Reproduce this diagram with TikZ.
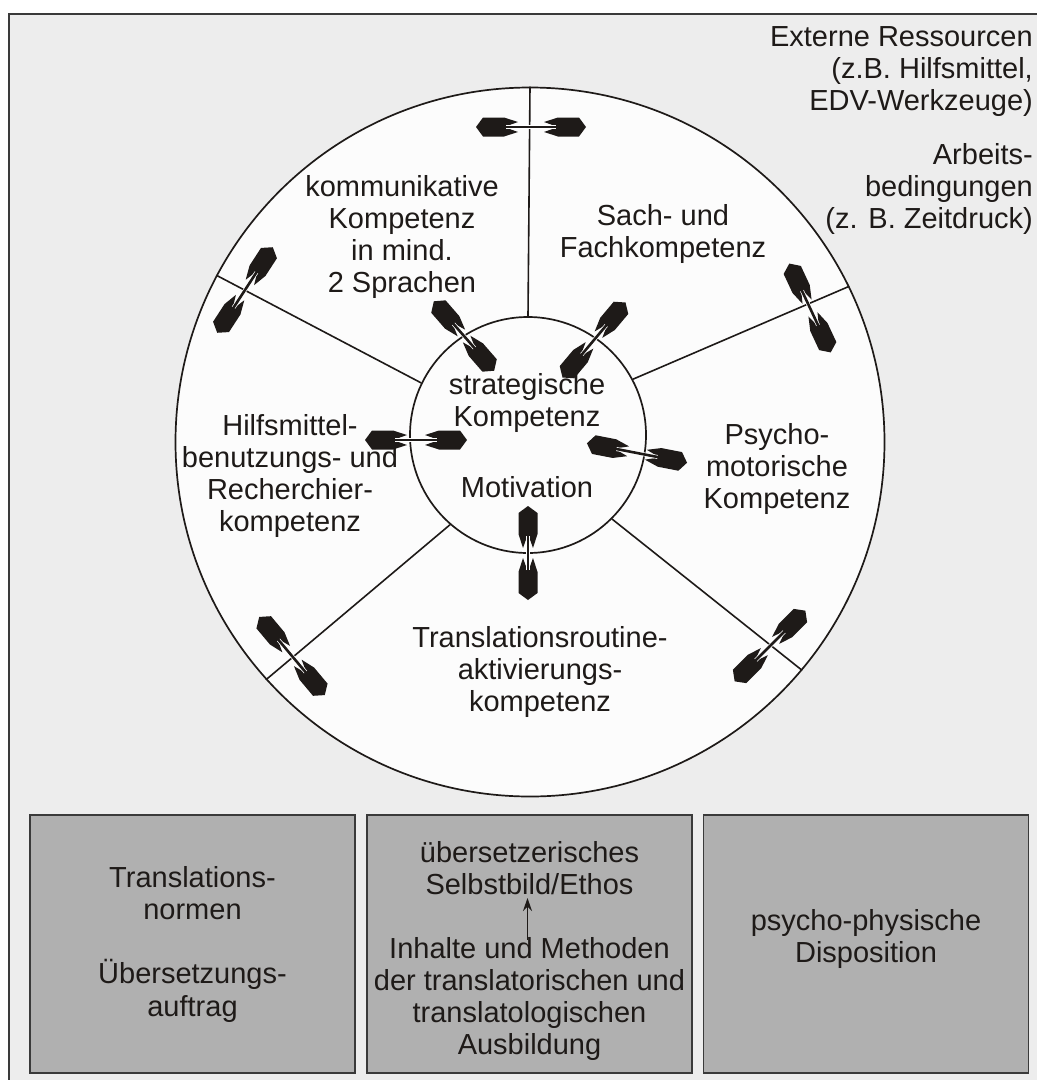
\documentclass[tikz,border=0pt]{standalone}
\usepackage{fontspec}
\setmainfont{Liberation Sans}
\usetikzlibrary{arrows.meta}
\definecolor{bgc}{HTML}{EDEDED}
\definecolor{circc}{HTML}{FCFCFC}
\definecolor{boxc}{HTML}{B0B0B0}
\definecolor{ink}{HTML}{1E1A18}
\definecolor{framec}{HTML}{3A3A3A}
\tikzset{
  lbl/.style={align=center, inner sep=0pt, text=ink, font=\fontsize{29}{32.3}\selectfont},
  rlbl/.style={align=right, inner sep=0pt, text=ink, font=\fontsize{29}{32}\selectfont},
  ring/.style={circle, draw=ink, line width=1.7pt, fill=circc, inner sep=0pt},
  spoke/.style={draw=ink, line width=1.6pt},
  graybox/.style={draw=framec, line width=1.4pt, fill=boxc, minimum width=325pt, minimum height=258pt, inner sep=0pt},
}
% double fat arrow: #1 centre, #2 angle, #3 half length
\newcommand{\fatarrow}[3]{%
  \begin{scope}[shift={#1}, x=1pt, y=1pt, rotate=#2]
    \fill[ink] (#3,0) -- (#3-7,9.5) -- (#3-28,9.5) -- (#3-42,5) -- (#3-33,1.8)
      -- (#3-33,-1.8) -- (#3-42,-5) -- (#3-28,-9.5) -- (#3-7,-9.5) -- cycle;
    \fill[ink] (-#3,0) -- (-#3+7,9.5) -- (-#3+28,9.5) -- (-#3+42,5) -- (-#3+33,1.8)
      -- (-#3+33,-1.8) -- (-#3+42,-5) -- (-#3+28,-9.5) -- (-#3+7,-9.5) -- cycle;
    \draw[white, line width=4pt] (-#3+30,0) -- (#3-30,0);
    \draw[ink, line width=2.6pt] (-#3+22,0) -- (#3-22,0);
  \end{scope}}
\begin{document}
\begin{tikzpicture}[x=1pt, y=-1pt]
  \useasboundingbox (0,0) rectangle (1037,1080);
  \clip (0,0) rectangle (1037,1080);
  \fill[white] (0,0) rectangle (1037,1080);
  \draw[draw=framec, line width=2.2pt, fill=bgc] (9,14) rectangle (1050,1095);

  % circles
  \node[ring, minimum size=709pt] (outer) at (530,442) {};
  \node[ring, minimum size=236pt] (inner) at (528,435) {};

  % spokes
  \draw[spoke] (inner.90) -- (outer.90);
  \draw[spoke] (inner.28) -- (outer.26);
  \draw[spoke] (inner.154) -- (outer.152);
  \draw[spoke] (inner.-45) -- (outer.-40);
  \draw[spoke] (inner.229) -- (outer.222);

  % labels
  \node[lbl] (komm) at (402,237) {kommunikative\\Kompetenz\\in mind.\\2 Sprachen};
  \node[lbl] (sach) at (663,234) {Sach- und\\Fachkompetenz};
  \node[lbl] (strat) at (527,403) {strategische\\Kompetenz};
  \node[lbl] (motiv) at (527,487) {Motivation};
  \node[lbl] (hilf) at (290,476) {Hilfsmittel-\\benutzungs- und\\Recherchier-\\kompetenz};
  \node[lbl] (psych) at (777,469) {Psycho-\\motorische\\Kompetenz};
  \node[lbl] (trans) at (540,672) {Translationsroutine-\\aktivierungs-\\kompetenz};
  \node[rlbl, anchor=east] (ext) at (1033,72) {Externe Ressourcen\\(z.B. Hilfsmittel,\\EDV-Werkzeuge)};
  \node[rlbl, anchor=east] (arb) at (1033,189) {Arbeits-\\bedingungen\\(z. B. Zeitdruck)};

  % fat double arrows
  \fatarrow{(531,127)}{0}{55}
  \fatarrow{(245,290)}{57}{51}
  \fatarrow{(464,336)}{-49}{46}
  \fatarrow{(594,340)}{50}{49}
  \fatarrow{(810,308)}{115}{49}
  \fatarrow{(416,440)}{0}{51}
  \fatarrow{(637,453)}{-11}{51}
  \fatarrow{(528,553)}{90}{47}
  \fatarrow{(292,656)}{130}{51}
  \fatarrow{(770,646)}{45}{50}

  % bottom boxes
  \node[graybox] (b1) at (192.5,944) {};
  \node[graybox] (b2) at (529.5,944) {};
  \node[graybox] (b3) at (866,944) {};
  \node[lbl] (tn) at (192.5,893) {Translations-\\normen};
  \node[lbl] (ua) at (192.5,991) {Übersetzungs-\\auftrag};
  \node[lbl] (selbst) at (529.5,868) {übersetzerisches\\Selbstbild/Ethos};
  \node[lbl] (inh) at (529.5,999) {Inhalte und Methoden\\der translatorischen und\\translatologischen\\Ausbildung};
  \node[lbl] (pp) at (866,939) {psycho-physische\\Disposition};
  \draw[ink, line width=1.5pt, -{Stealth[length=13pt,width=9pt]}] ([xshift=-2pt,yshift=-3pt]inh.north) -- ([xshift=-2pt,yshift=-3pt]selbst.south);
\end{tikzpicture}
\end{document}
